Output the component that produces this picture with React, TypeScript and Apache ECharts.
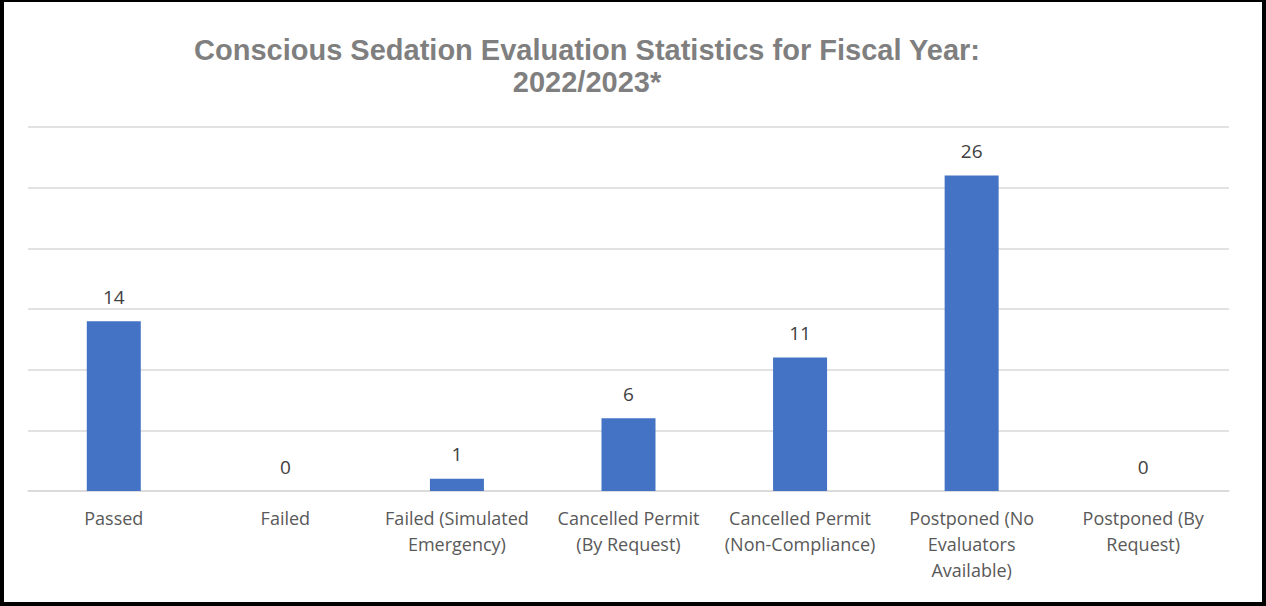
import React, { useEffect, useRef } from "react";
import * as echarts from "echarts";

const categories = [
  "Passed",
  "Failed",
  "Failed (Simulated\nEmergency)",
  "Cancelled Permit\n(By Request)",
  "Cancelled Permit\n(Non-Compliance)",
  "Postponed (No\nEvaluators\nAvailable)",
  "Postponed (By\nRequest)",
];
const values = [14, 0, 1, 6, 11, 26, 0];
const titleText = "Conscious Sedation Evaluation Statistics for Fiscal Year:\n2022/2023*";

export default function App() {
  const ref = useRef<HTMLDivElement>(null);
  useEffect(() => {
    if (!ref.current) return;
    const chart = echarts.init(ref.current, undefined, { renderer: "svg" });
    chart.setOption({
      animation: false,
      backgroundColor: "#ffffff",
      title: {
        text: titleText,
        left: 582,
        top: 29,
        textAlign: "center",
        textStyle: {
          fontFamily: "Liberation Sans, Arial, sans-serif",
          fontWeight: "bold",
          fontSize: 29,
          lineHeight: 32,
          color: "#7f7f7f",
        },
      },
      grid: { left: 28, right: 37, top: 127, bottom: 115, containLabel: false },
      xAxis: {
        type: "category",
        data: categories,
        axisLine: { lineStyle: { color: "#d9d9d9", width: 1.5 } },
        axisTick: { show: false },
        axisLabel: {
          interval: 0,
          margin: 14,
          fontFamily: "Open Sans, sans-serif",
          fontSize: 18,
          lineHeight: 26,
          color: "#595959",
        },
      },
      yAxis: {
        type: "value",
        min: 0,
        max: 30,
        interval: 5,
        axisLabel: { show: false },
        axisLine: { show: false },
        axisTick: { show: false },
        splitLine: { lineStyle: { color: "#d9d9d9", width: 1.5 } },
      },
      series: [
        {
          type: "bar",
          data: values,
          barWidth: 54,
          itemStyle: { color: "#4472c4" },
          label: {
            show: true,
            position: "top",
            distance: 15,
            fontFamily: "Open Sans, sans-serif",
            fontSize: 19,
            color: "#404040",
          },
        },
      ],
    });
    return () => chart.dispose();
  }, []);
  return (
    <div style={{ position: "fixed", left: 0, top: 0, width: 1266, height: 606 }}>
      <div ref={ref} style={{ position: "absolute", left: 0, top: 0, width: 1266, height: 606 }} />
      <div
        style={{
          position: "absolute",
          left: 0,
          top: 0,
          width: 1266,
          height: 606,
          boxSizing: "border-box",
          borderLeft: "4px solid #000",
          borderTop: "2px solid #000",
          borderRight: "4px solid #000",
          borderBottom: "4px solid #000",
          pointerEvents: "none",
        }}
      />
    </div>
  );
}
